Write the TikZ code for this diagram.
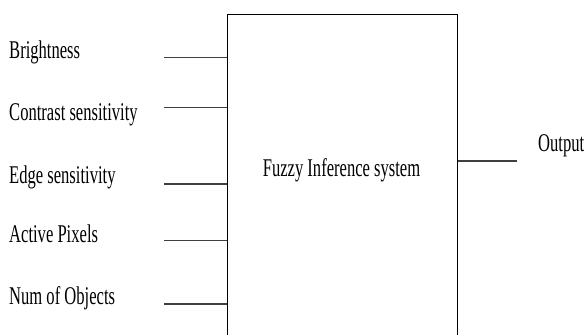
\documentclass[tikz,border=0pt]{standalone}
\usepackage{fontspec}
\newfontfamily\labelfont[FakeStretch=0.65]{Liberation Serif}
\begin{document}
\begin{tikzpicture}[x=1pt,y=-1pt,
  lbl/.style={inner sep=0pt,anchor=base west,font=\labelfont\fontsize{25.5}{30}\selectfont},
  wire/.style={draw=black!75,line width=1.3pt},
  fisbox/.style={draw=black,line width=1pt,inner sep=0pt}]
  \useasboundingbox (0,0) rectangle (585,334);
  \clip (0,0) rectangle (585,334);

  % central block (runs past the lower edge)
  \node[fisbox,minimum width=230pt,minimum height=340pt,anchor=north west] (fis) at (227,14) {};
  \node[lbl,anchor=base] (fistext) at (341.5,176.7) {Fuzzy Inference system};

  % input labels
  \node[lbl] (in1) at (9,58.3) {Brightness};
  \node[lbl] (in2) at (9,120.7) {Contrast sensitivity};
  \node[lbl] (in3) at (9,183.3) {Edge sensitivity};
  \node[lbl] (in4) at (9,242.3) {Active Pixels};
  \node[lbl] (in5) at (9,304) {Num of Objects};

  % output label
  \node[lbl] (out) at (538,151.7) {Output};

  % free ends of the input and output wires
  \coordinate (w1) at (164,57.3);
  \coordinate (w2) at (164,107.3);
  \coordinate (w3) at (164,184);
  \coordinate (w4) at (164,240.7);
  \coordinate (w5) at (164,304);
  \coordinate (wo) at (517,161);

  \foreach \i in {1,...,5}
    \draw[wire] (w\i) -- (w\i -| fis.west);
  \draw[wire] (wo -| fis.east) -- (wo);
\end{tikzpicture}
\end{document}
